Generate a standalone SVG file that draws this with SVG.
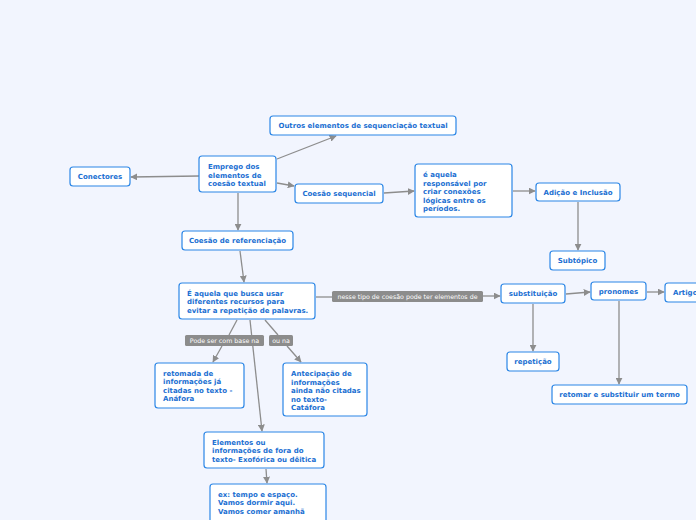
<svg xmlns="http://www.w3.org/2000/svg" width="696" height="520" viewBox="0 0 696 520">
<style>
.n rect{fill:#fff;stroke:#2b86e6;stroke-width:1.2}
.n text{font-family:"DejaVu Sans",Verdana,sans-serif;font-weight:bold;font-size:7px;fill:#1b6fd2}
.c{text-anchor:middle}
.e path{fill:none;stroke:#8d8d8d;stroke-width:1.3}
.l rect{fill:#8c8c8c}
.l text{font-family:"DejaVu Sans",Verdana,sans-serif;font-size:6.3px;fill:#fff;text-anchor:middle}
</style>
<defs>
<marker id="a" viewBox="0 0 10 10" refX="9" refY="5" markerWidth="7" markerHeight="7" markerUnits="userSpaceOnUse" orient="auto">
<path d="M0,0L10,5L0,10z" fill="#8d8d8d"/>
</marker>
</defs>
<rect width="696" height="520" fill="#f2f5fe"/>
<g class="e">
<path d="M277,159L336,136" marker-end="url(#a)"/>
<path d="M199,176L131,177" marker-end="url(#a)"/>
<path d="M277,183L294,186" marker-end="url(#a)"/>
<path d="M384,193L414,191" marker-end="url(#a)"/>
<path d="M513,191L535,191" marker-end="url(#a)"/>
<path d="M578,202L578,250" marker-end="url(#a)"/>
<path d="M238,193L238,230" marker-end="url(#a)"/>
<path d="M240,251L244,282" marker-end="url(#a)"/>
<path d="M316,297L332,297"/>
<path d="M483,296L500,296" marker-end="url(#a)"/>
<path d="M566,294L590,292" marker-end="url(#a)"/>
<path d="M647,292L664,292" marker-end="url(#a)"/>
<path d="M533,304L533,351" marker-end="url(#a)"/>
<path d="M619,301L619,384" marker-end="url(#a)"/>
<path d="M237,320L229,335"/>
<path d="M222,346L213,362" marker-end="url(#a)"/>
<path d="M265,320L278,335"/>
<path d="M287,346L301,362" marker-end="url(#a)"/>
<path d="M250,320L262,431" marker-end="url(#a)"/>
<path d="M266,469L267,483" marker-end="url(#a)"/>
</g>
<g class="l" id="l1"><rect x="332" y="291" width="151" height="11" rx="1.5"/><text x="407.5" y="299">nesse tipo de coesão pode ter elementos de</text></g>
<g class="l" id="l2"><rect x="185" y="335" width="79" height="11" rx="1.5"/><text x="224.5" y="343">Pode ser com base na</text></g>
<g class="l" id="l3"><rect x="269" y="335" width="24" height="11" rx="1.5"/><text x="281" y="343">ou na</text></g>
<g class="n" id="n1"><rect x="270" y="116" width="186" height="19" rx="3"/><text class="c" x="363" y="128">Outros elementos de sequenciação textual</text></g>
<g class="n" id="n2"><rect x="70" y="167" width="60" height="19" rx="3"/><text class="c" x="100" y="179">Conectores</text></g>
<g class="n" id="n3"><rect x="199" y="156" width="77" height="36" rx="3"/><text x="208" y="169"><tspan x="208">Emprego dos</tspan><tspan x="208" dy="8.5">elementos de</tspan><tspan x="208" dy="8.5">coesão textual</tspan></text></g>
<g class="n" id="n4"><rect x="295" y="184" width="88" height="19" rx="3"/><text class="c" x="339" y="196">Coesão sequencial</text></g>
<g class="n" id="n5"><rect x="415" y="164" width="97" height="53" rx="3"/><text x="423" y="177"><tspan x="423">é aquela</tspan><tspan x="423" dy="8.5">responsável por</tspan><tspan x="423" dy="8.5">criar conexões</tspan><tspan x="423" dy="8.5">lógicas entre os</tspan><tspan x="423" dy="8.5">períodos.</tspan></text></g>
<g class="n" id="n6"><rect x="536" y="183" width="84" height="18" rx="3"/><text class="c" x="578" y="194.5">Adição e Inclusão</text></g>
<g class="n" id="n7"><rect x="550" y="251" width="55" height="19" rx="3"/><text class="c" x="577.5" y="263">Subtópico</text></g>
<g class="n" id="n8"><rect x="182" y="231" width="111" height="19" rx="3"/><text class="c" x="237.5" y="243">Coesão de referenciação</text></g>
<g class="n" id="n9"><rect x="179" y="283" width="136" height="36" rx="3"/><text x="187" y="295.5"><tspan x="187">É aquela que busca usar</tspan><tspan x="187" dy="8.5">diferentes recursos para</tspan><tspan x="187" dy="8.5">evitar a repetição de palavras.</tspan></text></g>
<g class="n" id="n10"><rect x="501" y="284" width="64" height="19" rx="3"/><text class="c" x="533" y="296">substituição</text></g>
<g class="n" id="n11"><rect x="591" y="282" width="55" height="18" rx="3"/><text class="c" x="618.5" y="293.5">pronomes</text></g>
<g class="n" id="n12"><rect x="665" y="283" width="45" height="19" rx="3"/><text x="673" y="295">Artigo</text></g>
<g class="n" id="n13"><rect x="507" y="352" width="52" height="19" rx="3"/><text class="c" x="533" y="364">repetição</text></g>
<g class="n" id="n14"><rect x="552" y="385" width="135" height="19" rx="3"/><text class="c" x="619.5" y="397">retomar e substituir um termo</text></g>
<g class="n" id="n15"><rect x="155" y="363" width="89" height="45" rx="3"/><text x="163" y="375.5"><tspan x="163">retomada de</tspan><tspan x="163" dy="8.5">informações já</tspan><tspan x="163" dy="8.5">citadas no texto -</tspan><tspan x="163" dy="8.5">Anáfora</tspan></text></g>
<g class="n" id="n16"><rect x="283" y="363" width="84" height="53" rx="3"/><text x="291" y="376"><tspan x="291">Antecipação de</tspan><tspan x="291" dy="8.5">informações</tspan><tspan x="291" dy="8.5">ainda não citadas</tspan><tspan x="291" dy="8.5">no texto-</tspan><tspan x="291" dy="8.5">Catáfora</tspan></text></g>
<g class="n" id="n17"><rect x="204" y="432" width="120" height="36" rx="3"/><text x="212" y="444.5"><tspan x="212">Elementos ou</tspan><tspan x="212" dy="8.5">informações de fora do</tspan><tspan x="212" dy="8.5">texto- Exofórica ou dêitica</tspan></text></g>
<g class="n" id="n18"><rect x="210" y="484" width="116" height="44" rx="3"/><text x="218" y="496.5"><tspan x="218">ex: tempo e espaço.</tspan><tspan x="218" dy="8.5">Vamos dormir aqui.</tspan><tspan x="218" dy="8.5">Vamos comer amanhã</tspan></text></g>
</svg>
